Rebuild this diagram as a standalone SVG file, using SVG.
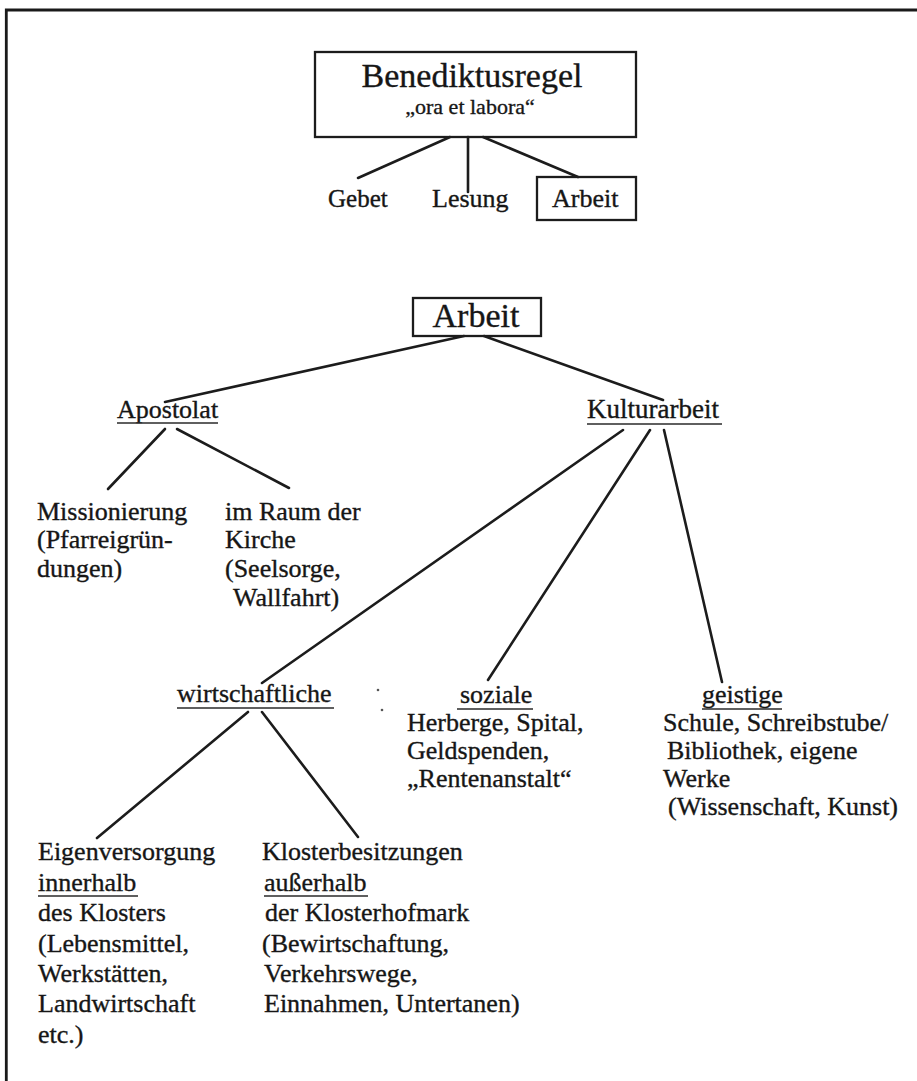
<svg xmlns="http://www.w3.org/2000/svg" width="917" height="1081" viewBox="0 0 917 1081">
<style>
text{font-family:"Liberation Serif","Times New Roman",serif;fill:#161616;stroke:#161616;stroke-width:0.35;font-size:26px}
.box{fill:none;stroke:#1c1c1c;stroke-width:2.3}
.ln{stroke:#1c1c1c;stroke-width:2.6;fill:none;stroke-linecap:round}
.ul{stroke:#2a2a2a;stroke-width:1.6}
.frame{stroke:#1a1a1a;stroke-width:2.8;fill:none}
</style>
<rect width="917" height="1081" fill="#ffffff"/>
<g id="frame">
<path class="frame" d="M6.3,1081 V10 H917"/>
</g>
<g id="connectors">
<line class="ln" x1="450" y1="137" x2="358" y2="178"/>
<line class="ln" x1="468" y1="137" x2="468" y2="192"/>
<line class="ln" x1="483" y1="137" x2="578" y2="177"/>
<line class="ln" x1="464" y1="336" x2="165" y2="402"/>
<line class="ln" x1="484" y1="336" x2="663" y2="400"/>
<line class="ln" x1="165" y1="429" x2="108" y2="489"/>
<line class="ln" x1="177" y1="429" x2="289" y2="488"/>
<line class="ln" x1="623" y1="430" x2="262" y2="683"/>
<line class="ln" x1="650" y1="430" x2="488" y2="680"/>
<line class="ln" x1="664" y1="430" x2="722" y2="682"/>
<line class="ln" x1="248" y1="712" x2="97" y2="838"/>
<line class="ln" x1="262" y1="712" x2="358" y2="837"/>
</g>
<g id="benediktusregel">
<rect class="box" x="315" y="52" width="321" height="85"/>
<text x="472" y="87" text-anchor="middle" style="font-size:34px">Benediktusregel</text>
<text x="470" y="114" text-anchor="middle" style="font-size:22px">„ora et labora“</text>
</g>
<g id="gebet"><text x="328" y="207" style="font-size:25px">Gebet</text></g>
<g id="lesung"><text x="432" y="207">Lesung</text></g>
<g id="arbeit-top">
<rect class="box" x="537" y="177" width="99" height="43"/>
<text x="552" y="207">Arbeit</text>
</g>
<g id="arbeit">
<rect class="box" x="413" y="298" width="128" height="38"/>
<text x="476" y="327" text-anchor="middle" style="font-size:34px">Arbeit</text>
</g>
<g id="apostolat">
<text x="117" y="418">Apostolat</text>
<line class="ul" x1="117" y1="423" x2="218" y2="423"/>
</g>
<g id="kulturarbeit">
<text x="587" y="418" style="font-size:27px">Kulturarbeit</text>
<line class="ul" x1="587" y1="424" x2="722" y2="424"/>
</g>
<g id="missionierung">
<text x="37" y="520">Missionierung</text>
<text x="37" y="548">(Pfarreigrün-</text>
<text x="37" y="577">dungen)</text>
</g>
<g id="raum-der-kirche">
<text x="225" y="520">im Raum der</text>
<text x="225" y="548">Kirche</text>
<text x="225" y="577">(Seelsorge,</text>
<text x="233" y="606">Wallfahrt)</text>
</g>
<g id="wirtschaftliche">
<text x="177" y="702">wirtschaftliche</text>
<line class="ul" x1="177" y1="708" x2="334" y2="708"/>
</g>
<g id="specks">
<circle cx="378" cy="690" r="1.3" fill="#555"/>
<circle cx="382" cy="710" r="1.3" fill="#555"/>
</g>
<g id="soziale">
<text x="460" y="703">soziale</text>
<line class="ul" x1="457" y1="709" x2="533" y2="709"/>
<text x="407" y="731">Herberge, Spital,</text>
<text x="407" y="759">Geldspenden,</text>
<text x="407" y="787">„Rentenanstalt“</text>
</g>
<g id="geistige">
<text x="702" y="703">geistige</text>
<line class="ul" x1="702" y1="709" x2="782" y2="709"/>
<text x="663" y="731">Schule, Schreibstube/</text>
<text x="667" y="759">Bibliothek, eigene</text>
<text x="663" y="787">Werke</text>
<text x="668" y="815">(Wissenschaft, Kunst)</text>
</g>
<g id="eigenversorgung">
<text x="38" y="860">Eigenversorgung</text>
<text x="38" y="891">innerhalb</text>
<line class="ul" x1="38" y1="896" x2="138" y2="896"/>
<text x="38" y="921">des Klosters</text>
<text x="38" y="952">(Lebensmittel,</text>
<text x="38" y="982">Werkstätten,</text>
<text x="38" y="1012">Landwirtschaft</text>
<text x="38" y="1043">etc.)</text>
</g>
<g id="klosterbesitzungen">
<text x="262" y="860">Klosterbesitzungen</text>
<text x="264" y="891">außerhalb</text>
<line class="ul" x1="264" y1="896" x2="368" y2="896"/>
<text x="265" y="921">der Klosterhofmark</text>
<text x="262" y="952">(Bewirtschaftung,</text>
<text x="264" y="982">Verkehrswege,</text>
<text x="264" y="1012">Einnahmen, Untertanen)</text>
</g>
</svg>
